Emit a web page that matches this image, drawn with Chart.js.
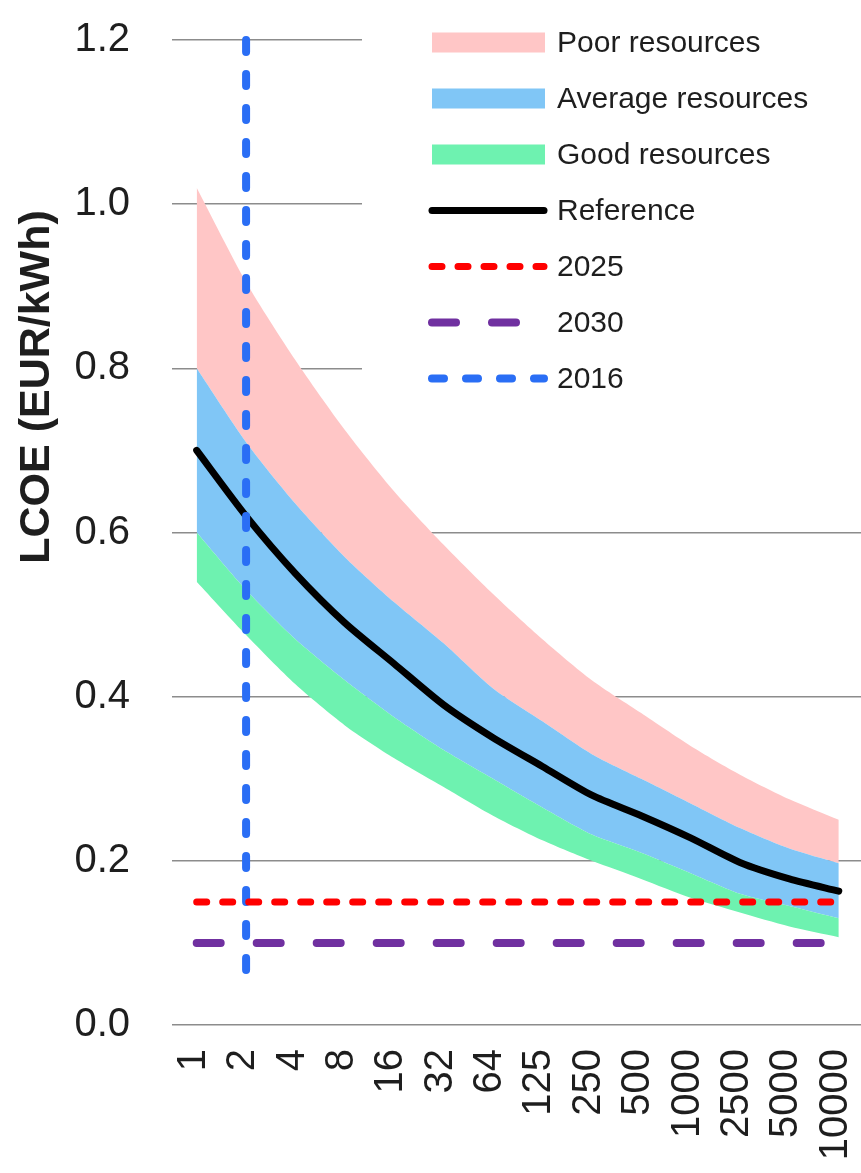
<!DOCTYPE html>
<html>
<head>
<meta charset="utf-8">
<script src="https://cdn.jsdelivr.net/npm/chart.js@4.4.0/dist/chart.umd.min.js"></script>
<style>
  html, body { margin: 0; padding: 0; background: #fff; }
  canvas { display: block; }
</style>
</head>
<body>
<canvas id="lcoeChart" width="861" height="1173"></canvas>
<script>
// x categories
var categories = ['1', '2', '4', '8', '16', '32', '64', '125', '250', '500', '1000', '2500', '5000', '10000'];

// LCOE (EUR/kWh)
var reference   = [0.70, 0.62, 0.55, 0.49, 0.44, 0.39, 0.35, 0.315, 0.28, 0.255, 0.228, 0.198, 0.178, 0.163];
var poorHigh    = [1.02, 0.905, 0.81, 0.725, 0.65, 0.585, 0.525, 0.47, 0.42, 0.38, 0.34, 0.305, 0.275, 0.25];
var averageHigh = [0.80, 0.71, 0.635, 0.57, 0.515, 0.465, 0.41, 0.37, 0.33, 0.30, 0.27, 0.24, 0.215, 0.197];
var goodHigh    = [0.60, 0.53, 0.47, 0.42, 0.375, 0.335, 0.30, 0.265, 0.232, 0.21, 0.185, 0.16, 0.145, 0.13];
var goodLow     = [0.54, 0.475, 0.415, 0.365, 0.325, 0.29, 0.255, 0.225, 0.20, 0.178, 0.155, 0.137, 0.12, 0.107];

// target levels and the 2016 marker
var target2025 = 0.15;
var target2030 = 0.10;
var marker2016 = '2';
var marker2016Range = [1.2, 0.05];

var yMax = 1.2;
var yStep = 0.2;
var yTitle = 'LCOE (EUR/kWh)';
var legendOrder = ['Poor resources', 'Average resources', 'Good resources', 'Reference', '2025', '2030', '2016'];

Chart.defaults.font.family = '"Liberation Sans", Arial, sans-serif';
Chart.defaults.color = '#1e1e1e';

function toPoints(values) {
    return values.map(function (v, i) { return { x: i, y: v }; });
}

function flatLine(value) {
    return [{ x: 0, y: value }, { x: categories.length - 1, y: value }];
}

var markerIndex = categories.indexOf(marker2016);

var band = { borderWidth: 0, pointRadius: 0, tension: 0.25, order: 5 };

var datasets = [
    Object.assign({ label: 'goodLow', data: toPoints(goodLow), fill: false, backgroundColor: 'transparent' }, band),
    Object.assign({ label: 'Good resources', data: toPoints(goodHigh), fill: '-1', backgroundColor: '#6ef2b0' }, band),
    Object.assign({ label: 'Average resources', data: toPoints(averageHigh), fill: '-1', backgroundColor: '#80c6f6' }, band),
    Object.assign({ label: 'Poor resources', data: toPoints(poorHigh), fill: '-1', backgroundColor: '#ffc6c6' }, band),
    {
        label: 'Reference', data: toPoints(reference), borderColor: '#000', borderWidth: 7,
        borderCapStyle: 'round', pointRadius: 0, tension: 0.25, fill: false, order: 1
    },
    {
        label: '2025', data: flatLine(target2025), borderColor: '#ff0000', borderWidth: 7,
        borderDash: [10, 16], borderCapStyle: 'round', pointRadius: 0, fill: false, order: 0
    },
    {
        label: '2030', data: flatLine(target2030), borderColor: '#7030a0', borderWidth: 8,
        borderDash: [24, 36], borderCapStyle: 'round', pointRadius: 0, fill: false, order: 0
    },
    {
        label: '2016', data: [{ x: markerIndex, y: marker2016Range[0] }, { x: markerIndex, y: marker2016Range[1] }],
        borderColor: '#2a6ef5', borderWidth: 8, borderDash: [12, 22], borderCapStyle: 'round',
        pointRadius: 0, fill: false, order: 0, clip: 10
    }
];

// y axis title, placed like the original (above centre)
var titlePlugin = {
    id: 'yTitle',
    afterDraw: function (chart) {
        var ctx = chart.ctx;
        ctx.save();
        ctx.translate(37, 387);
        ctx.rotate(-Math.PI / 2);
        ctx.font = 'bold 43px "Liberation Sans", Arial, sans-serif';
        ctx.fillStyle = '#1e1e1e';
        ctx.textAlign = 'center';
        ctx.textBaseline = 'middle';
        ctx.fillText(yTitle, 0, 0);
        ctx.restore();
    }
};

// legend sits inside the plot on a white box
var legendPlugin = {
    id: 'insideLegend',
    beforeDatasetsDraw: function (chart) {
        var ctx = chart.ctx;
        ctx.save();
        ctx.fillStyle = '#fff';
        ctx.fillRect(362, 0, chart.width - 362, 402);
        ctx.restore();
    },
    afterDraw: function (chart) {
        var ctx = chart.ctx;
        ctx.save();
        legendOrder.forEach(function (label, i) {
            var ds = chart.data.datasets.find(function (d) { return d.label === label; });
            var y = 42.5 + i * 56;
            if (ds.fill) {
                ctx.fillStyle = ds.backgroundColor;
                ctx.fillRect(432, y - 10, 113, 20);
            } else {
                ctx.strokeStyle = ds.borderColor;
                ctx.lineWidth = ds.borderWidth;
                ctx.lineCap = 'round';
                ctx.setLineDash(ds.borderDash || []);
                ctx.beginPath();
                ctx.moveTo(432, y);
                ctx.lineTo(544, y);
                ctx.stroke();
                ctx.setLineDash([]);
            }
            ctx.fillStyle = '#1e1e1e';
            ctx.font = '30px "Liberation Sans", Arial, sans-serif';
            ctx.textBaseline = 'middle';
            ctx.textAlign = 'left';
            ctx.fillText(label, 557, y + 1);
        });
        ctx.restore();
    }
};

new Chart(document.getElementById('lcoeChart'), {
    type: 'line',
    data: { datasets: datasets },
    options: {
        responsive: false,
        animation: false,
        layout: { padding: { top: 40, left: 0, right: 0, bottom: 0 } },
        plugins: {
            legend: { display: false },
            tooltip: { enabled: false }
        },
        scales: {
            x: {
                type: 'linear',
                min: -0.5,
                max: categories.length - 0.55,
                grid: { display: false, drawTicks: false },
                border: { display: false },
                afterBuildTicks: function (scale) {
                    scale.ticks = categories.map(function (c, i) { return { value: i }; });
                },
                afterFit: function (scale) {
                    scale.height = 148;
                    scale.paddingLeft = 0;
                    scale.paddingRight = 0;
                },
                ticks: {
                    autoSkip: false,
                    minRotation: 90,
                    maxRotation: 90,
                    padding: 24,
                    labelOffset: -3,
                    font: { size: 40 },
                    callback: function (v) { return categories[v]; }
                }
            },
            y: {
                min: 0,
                max: yMax,
                grid: { color: '#8c8c8c', lineWidth: 1.5, drawTicks: false },
                border: { display: false },
                afterFit: function (scale) {
                    scale.width = 172;
                    scale.paddingTop = 0;
                    scale.paddingBottom = 0;
                },
                ticks: {
                    stepSize: yStep,
                    padding: 42,
                    font: { size: 40 },
                    callback: function (v) { return v.toFixed(1); }
                }
            }
        }
    },
    plugins: [titlePlugin, legendPlugin]
});
</script>
</body>
</html>
